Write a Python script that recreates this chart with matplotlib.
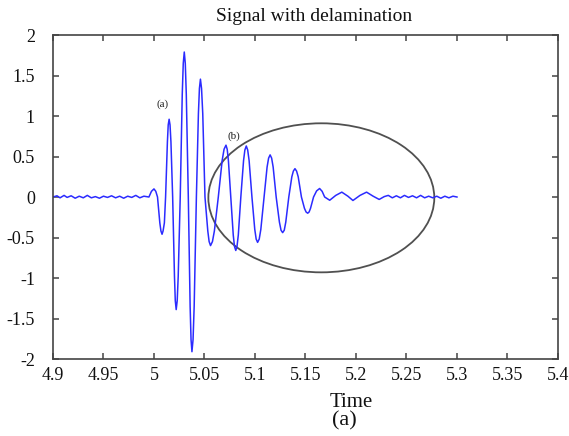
#plotting the lamb wave signal with delamination

import numpy as np
import matplotlib
matplotlib.use("Agg")
import matplotlib.pyplot as plt
from matplotlib.patches import Ellipse

plt.rcParams['font.family'] = ['Liberation Serif', 'DejaVu Serif']

# noise floor before the first arrival
t_pre = [4.900, 4.904, 4.907, 4.911, 4.914, 4.918, 4.922, 4.926, 4.930, 4.934,
         4.938, 4.942, 4.946, 4.950, 4.954, 4.958, 4.962, 4.966, 4.970, 4.974,
         4.978, 4.982, 4.986, 4.990, 4.995]
a_pre = [0.0, 0.015, -0.01, 0.02, -0.005, 0.015, -0.015, 0.01, -0.01, 0.02,
         -0.01, 0.005, -0.015, 0.01, -0.005, 0.015, -0.01, 0.01, -0.015, 0.01,
         -0.005, 0.02, -0.01, 0.01, 0.0]

# main wave packet (a) and the reflected packet (b)
t_packet = [4.9975, 5.000, 5.0018, 5.0035,
            5.0058, 5.0069, 5.008, 5.009, 5.0103, 5.0115,
            5.0133, 5.0141, 5.015, 5.0159, 5.0168, 5.0185,
            5.0203, 5.0211, 5.022, 5.023, 5.024, 5.026,
            5.028, 5.029, 5.030, 5.031, 5.032, 5.034,
            5.0358, 5.0367, 5.0376, 5.0387, 5.0398, 5.042,
            5.044, 5.045, 5.046, 5.0471, 5.0483, 5.0505,
            5.0533, 5.0546, 5.056, 5.0579, 5.0598, 5.0637,
            5.0675, 5.0694, 5.0713, 5.0725, 5.0737, 5.076,
            5.0785, 5.0797, 5.081, 5.0822, 5.0835, 5.086,
            5.0887, 5.090, 5.0914, 5.0928, 5.0942, 5.097,
            5.0998, 5.1012, 5.1026, 5.1042, 5.1058, 5.109,
            5.112, 5.1135, 5.115, 5.1165, 5.118, 5.121,
            5.1242, 5.1258, 5.1274, 5.129, 5.1305, 5.1335,
            5.1365, 5.138, 5.1396, 5.1412, 5.1428, 5.146,
            5.149, 5.1506, 5.1522, 5.1536, 5.155, 5.158,
            5.161, 5.164, 5.1665, 5.169]
a_packet = [0.07, 0.10, 0.07, 0.0,
            -0.32, -0.42, -0.46, -0.42, -0.32, 0.0,
            0.68, 0.89, 0.96, 0.89, 0.68, 0.0,
            -0.98, -1.28, -1.39, -1.28, -0.98, 0.0,
            1.27, 1.65, 1.79, 1.65, 1.27, 0.0,
            -1.35, -1.76, -1.91, -1.76, -1.35, 0.0,
            1.03, 1.34, 1.455, 1.34, 1.03, 0.0,
            -0.42, -0.55, -0.60, -0.55, -0.42, 0.0,
            0.45, 0.59, 0.64, 0.59, 0.45, 0.0,
            -0.47, -0.61, -0.66, -0.61, -0.47, 0.0,
            0.45, 0.58, 0.63, 0.58, 0.45, 0.0,
            -0.40, -0.52, -0.56, -0.52, -0.40, 0.0,
            0.37, 0.48, 0.52, 0.48, 0.37, 0.0,
            -0.31, -0.41, -0.44, -0.41, -0.31, 0.0,
            0.25, 0.32, 0.35, 0.32, 0.25, 0.0,
            -0.14, -0.185, -0.20, -0.185, -0.14, 0.0,
            0.075, 0.105, 0.07, 0.0]

# decaying tail
t_tail = [5.174, 5.180, 5.186, 5.192, 5.197, 5.204, 5.2105, 5.217, 5.223, 5.228,
          5.232, 5.236, 5.240, 5.244, 5.248, 5.252, 5.256, 5.260, 5.264, 5.268,
          5.272, 5.276, 5.280, 5.284, 5.288, 5.292, 5.296, 5.300]
a_tail = [-0.04, 0.02, 0.06, 0.01, -0.043, 0.02, 0.06, 0.01, -0.03, 0.005,
          0.02, -0.01, 0.015, -0.01, 0.02, -0.005, 0.015, -0.01, 0.02, -0.01,
          0.01, -0.01, 0.01, -0.015, 0.01, -0.01, 0.01, 0.0]

xticks = [4.9, 4.95, 5, 5.05, 5.1, 5.15, 5.2, 5.25, 5.3, 5.35, 5.4]
xticklabels = ['4.9', '4.95', '5', '5.05', '5.1', '5.15', '5.2', '5.25', '5.3', '5.35', '5.4']
yticks = [-2, -1.5, -1, -0.5, 0, 0.5, 1, 1.5, 2]
yticklabels = ['-2', '-1.5', '-1', '-0.5', '0', '0.5', '1', '1.5', '2']

# region of the reflected wave packets (centre, width, height)
region_centre = (5.1657, -0.01)
region_width = 0.2237
region_height = 1.84

time = np.array(t_pre + t_packet + t_tail)
amplitude = np.array(a_pre + a_packet + a_tail)

fig = plt.figure(figsize=(5.69, 4.36), dpi=100)
ax = fig.add_axes([0.0931, 0.1766, 0.8875, 0.7431])

ax.plot(time, amplitude, color='#2b2bff', linewidth=1.1)

ell = Ellipse(region_centre, region_width, region_height, fill=False,
              edgecolor='#505050', linewidth=1.3)
ax.add_patch(ell)

ax.text(5.009, 1.15, '(a)', fontsize=8, ha='center', va='center', color='#222222')
ax.text(5.079, 0.75, '(b)', fontsize=8, ha='center', va='center', color='#222222')

ax.set_xlim(4.9, 5.4)
ax.set_ylim(-2, 2)
ax.set_xticks(xticks)
ax.set_xticklabels(xticklabels)
ax.set_yticks(yticks)
ax.set_yticklabels(yticklabels)

ax.tick_params(direction='in', length=4, width=1.1, color='#444444',
               top=True, right=True, labelsize=13, labelcolor='#111111')
ax.tick_params(axis='y', pad=13)
ax.tick_params(axis='x', pad=6)
for s in ax.spines.values():
    s.set_color('#444444')
    s.set_linewidth(1.2)

fig.text(0.552, 0.963, 'Signal with delamination', fontsize=14,
         ha='center', va='center', color='#111111')
fig.text(0.618, 0.076, 'Time', fontsize=15, ha='center', va='center', color='#111111')
fig.text(0.606, 0.034, '(a)', fontsize=16, ha='center', va='center', color='#111111')

fig.savefig('out.png', dpi=100)
